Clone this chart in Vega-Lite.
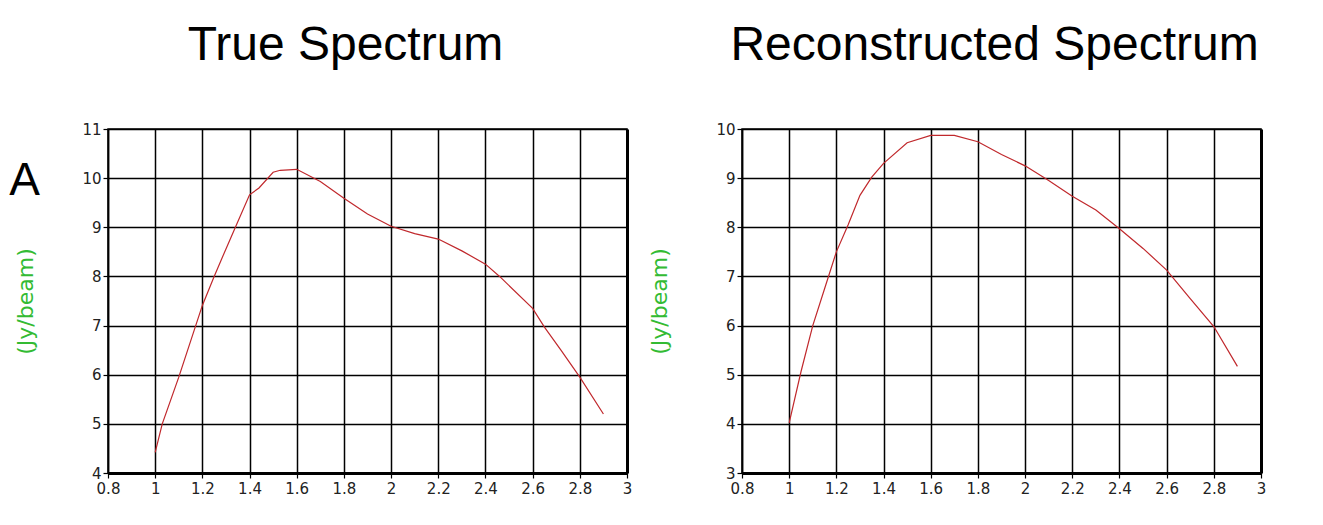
{
  "$schema": "https://vega.github.io/schema/vega-lite/v6.json",
  "background": "white",
  "padding": {"left": 9, "top": 21, "right": 0, "bottom": 0},
  "spacing": 15,
  "title": {
    "text": "A",
    "orient": "top",
    "anchor": "start",
    "frame": "bounds",
    "font": "Liberation Sans",
    "fontSize": 46,
    "fontWeight": "normal",
    "color": "#000000",
    "baseline": "alphabetic",
    "offset": 0,
    "dx": -5,
    "dy": 220
  },
  "datasets": {
    "true_spectrum": [
      {"freq": 1.0, "flux": 4.42}, {"freq": 1.03, "flux": 5.0}, {"freq": 1.1, "flux": 5.95},
      {"freq": 1.2, "flux": 7.41}, {"freq": 1.25, "flux": 8.0}, {"freq": 1.3, "flux": 8.56},
      {"freq": 1.34, "flux": 9.0}, {"freq": 1.4, "flux": 9.66}, {"freq": 1.44, "flux": 9.8},
      {"freq": 1.5, "flux": 10.12}, {"freq": 1.53, "flux": 10.16}, {"freq": 1.6, "flux": 10.18},
      {"freq": 1.7, "flux": 9.93}, {"freq": 1.8, "flux": 9.59}, {"freq": 1.9, "flux": 9.27},
      {"freq": 2.0, "flux": 9.02}, {"freq": 2.1, "flux": 8.87}, {"freq": 2.2, "flux": 8.76},
      {"freq": 2.3, "flux": 8.52}, {"freq": 2.4, "flux": 8.25}, {"freq": 2.46, "flux": 8.0},
      {"freq": 2.6, "flux": 7.35}, {"freq": 2.65, "flux": 6.97}, {"freq": 2.72, "flux": 6.5},
      {"freq": 2.8, "flux": 5.95}, {"freq": 2.9, "flux": 5.2}
    ],
    "reconstructed_spectrum": [
      {"freq": 1.0, "flux": 4.02}, {"freq": 1.05, "flux": 5.06}, {"freq": 1.1, "flux": 6.0},
      {"freq": 1.15, "flux": 6.75}, {"freq": 1.2, "flux": 7.5}, {"freq": 1.25, "flux": 8.05},
      {"freq": 1.3, "flux": 8.65}, {"freq": 1.35, "flux": 9.02}, {"freq": 1.4, "flux": 9.3},
      {"freq": 1.5, "flux": 9.72}, {"freq": 1.6, "flux": 9.87}, {"freq": 1.7, "flux": 9.87},
      {"freq": 1.8, "flux": 9.74}, {"freq": 1.9, "flux": 9.48}, {"freq": 2.0, "flux": 9.25},
      {"freq": 2.1, "flux": 8.95}, {"freq": 2.2, "flux": 8.63}, {"freq": 2.3, "flux": 8.35},
      {"freq": 2.4, "flux": 7.97}, {"freq": 2.5, "flux": 7.57}, {"freq": 2.6, "flux": 7.13},
      {"freq": 2.7, "flux": 6.55}, {"freq": 2.8, "flux": 5.98}, {"freq": 2.9, "flux": 5.17}
    ]
  },
  "hconcat": [
    {
      "width": 519,
      "height": 344,
      "title": {"text": "True Spectrum", "dx": -22},
      "data": {"name": "true_spectrum"},
      "mark": {"type": "line", "color": "#c0282c", "strokeWidth": 1.2},
      "encoding": {
        "x": {
          "field": "freq",
          "type": "quantitative",
          "scale": {"domain": [0.8, 3], "nice": false, "zero": false},
          "axis": {"values": [0.8, 1, 1.2, 1.4, 1.6, 1.8, 2, 2.2, 2.4, 2.6, 2.8, 3], "format": "~r", "title": null}
        },
        "y": {
          "field": "flux",
          "type": "quantitative",
          "scale": {"domain": [4, 11], "nice": false, "zero": false},
          "axis": {"values": [4, 5, 6, 7, 8, 9, 10, 11], "format": "~r", "title": "(Jy/beam)"}
        }
      }
    },
    {
      "width": 519,
      "height": 344,
      "title": {"text": "Reconstructed Spectrum", "dx": -7},
      "data": {"name": "reconstructed_spectrum"},
      "mark": {"type": "line", "color": "#c0282c", "strokeWidth": 1.2},
      "encoding": {
        "x": {
          "field": "freq",
          "type": "quantitative",
          "scale": {"domain": [0.8, 3], "nice": false, "zero": false},
          "axis": {"values": [0.8, 1, 1.2, 1.4, 1.6, 1.8, 2, 2.2, 2.4, 2.6, 2.8, 3], "format": "~r", "title": null}
        },
        "y": {
          "field": "flux",
          "type": "quantitative",
          "scale": {"domain": [3, 10], "nice": false, "zero": false},
          "axis": {"values": [3, 4, 5, 6, 7, 8, 9, 10], "format": "~r", "title": "(Jy/beam)"}
        }
      }
    }
  ],
  "config": {
    "view": {"stroke": "#000000", "strokeWidth": 1.5},
    "title": {
      "font": "Liberation Sans",
      "fontSize": 48,
      "fontWeight": "normal",
      "color": "#000000",
      "anchor": "middle",
      "frame": "group",
      "baseline": "alphabetic",
      "offset": 52
    },
    "axis": {
      "grid": true,
      "gridColor": "#000000",
      "gridOpacity": 1,
      "gridWidth": 1.5,
      "domainColor": "#000000",
      "tickColor": "#000000",
      "tickSize": 5,
      "tickWidth": 1.2,
      "labelFont": "DejaVu Sans",
      "labelFontSize": 15,
      "labelColor": "#222222",
      "labelPadding": 2,
      "labelFlush": false,
      "labelOverlap": false,
      "titleFont": "DejaVu Sans",
      "titleFontSize": 22,
      "titleFontWeight": "normal",
      "titleColor": "#33bb33",
      "titlePadding": 44
    },
    "axisX": {
      "labelPadding": 3,
      "domainWidth": 3,
      "gridWidth": {"condition": {"test": "datum.value === 3", "value": 3}, "value": 1.5}
    },
    "axisY": {"domainWidth": 1.5}
  }
}
